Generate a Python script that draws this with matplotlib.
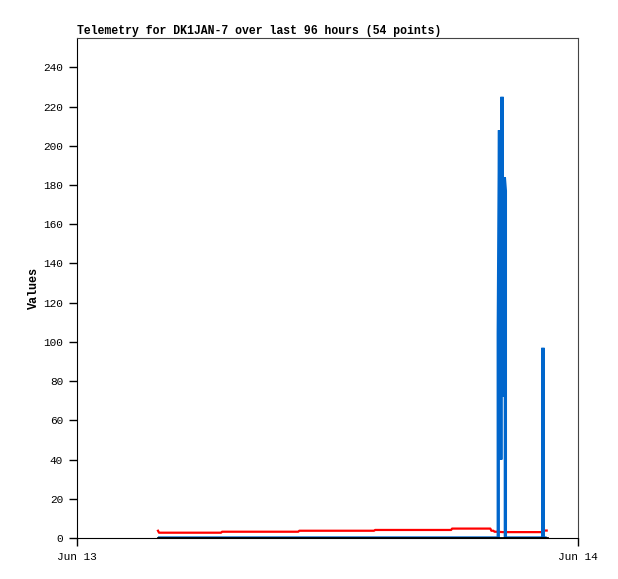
import matplotlib
matplotlib.use('Agg')
import matplotlib.pyplot as plt
import matplotlib.dates as mdates
import numpy as np
from datetime import datetime, timedelta

START = datetime(2024, 6, 13)

# hours after Jun 13 00:00 and values for each series
red_hours = [3.88, 3.93, 6.90, 6.95, 10.60, 10.65, 14.23, 14.28, 17.92, 17.97,
             19.80, 19.85, 19.95, 20.00, 20.10, 20.40, 22.25, 22.35, 22.50]
red_vals = [3.7, 2.7, 2.7, 3.2, 3.2, 3.7, 3.7, 4.1, 4.1, 4.8,
            4.8, 3.7, 3.7, 3.2, 3.2, 3.0, 3.0, 3.8, 3.8]

blue_hours = [3.88, 20.18, 20.18, 20.24, 20.30, 20.36, 20.42, 20.47, 20.52,
              20.52, 22.32, 22.32, 22.32, 22.50]
blue_vals = [0, 0, 104, 208, 40, 225, 72, 184, 177, 0, 0, 97, 0, 0]

black_hours = [3.88, 22.50]
black_vals = [0, 0]

title = 'Telemetry for DK1JAN-7 over last 96 hours (54 points)'


def to_dates(hours):
    return [START + timedelta(hours=h) for h in hours]


fig = plt.figure(figsize=(6.18, 5.79), dpi=100)
ax = fig.add_axes([77 / 618, 41 / 579, 501 / 618, 500 / 579])

ax.plot(to_dates(red_hours), red_vals, color='#ff0000', lw=1.6)
ax.plot(to_dates(blue_hours), blue_vals, color='#0066cc', lw=2.4,
        solid_joinstyle='miter', solid_capstyle='butt')
ax.plot(to_dates(black_hours), black_vals, color='black', lw=2.0)

ax.set_xlim(START, START + timedelta(days=1))
ax.set_ylim(0, 255)
ax.set_yticks(np.arange(0, 241, 20))
ax.set_xticks([START, START + timedelta(days=1)])
ax.xaxis.set_major_formatter(mdates.DateFormatter('%b %d'))

mono = ['Liberation Mono', 'DejaVu Sans Mono']
ax.tick_params(direction='out', length=6, width=1, labelsize=8, pad=4)
for lab in ax.get_xticklabels() + ax.get_yticklabels():
    lab.set_family(mono)
ax.set_ylabel('Values', family=mono, fontweight='bold', fontsize=8.5, labelpad=2)
ax.set_title(title, loc='left', family=mono, fontweight='bold', fontsize=8.3, pad=3)

for side in ['top', 'right']:
    ax.spines[side].set_color('#444444')

fig.savefig('out.png', dpi=100)
